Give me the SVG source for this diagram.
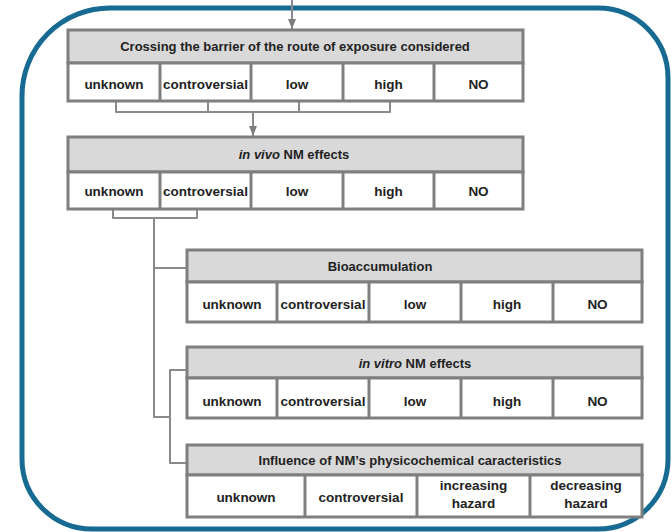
<svg xmlns="http://www.w3.org/2000/svg" width="672" height="532" viewBox="0 0 672 532">
<defs>
<style>
.frame{fill:none;stroke:#176a92;stroke-width:5}
.box{fill:#ffffff;stroke:#7f7f7f;stroke-width:3}
.hdr{fill:#d9d9d9;stroke:#7f7f7f;stroke-width:3}
.div{stroke:#7f7f7f;stroke-width:3}
.con{fill:none;stroke:#8a8a8a;stroke-width:2;stroke-linejoin:round}
text{font-family:"Liberation Sans",Arial,sans-serif;font-weight:bold;font-size:13px;fill:#222222;text-anchor:middle}
.c{font-size:13.5px}
.it{font-style:italic}
</style>
<marker id="ah" markerUnits="userSpaceOnUse" markerWidth="10" markerHeight="10" viewBox="0 0 10 10" refX="10" refY="5" orient="auto">
<path d="M0,1 L10,5 L0,9 Z" fill="#7f7f7f"/>
</marker>
</defs>
<rect width="672" height="532" fill="#ffffff"/>
<path class="frame" d="M22,96 A88,88 0 0 1 110,8 H598 A70,70 0 0 1 668,78 V459 A70,70 0 0 1 598,529 H92 A70,70 0 0 1 22,459 Z"/>

<g id="connectors">
<path class="con" d="M292,0 V29" marker-end="url(#ah)"/>
<path class="con" d="M116,102 V112 H390 V102 M208,102 V112 M299,102 V112"/>
<path class="con" d="M253,112 V136" marker-end="url(#ah)"/>
<path class="con" d="M113,209 V218 H197 V209"/>
<path class="con" d="M154,218 V417 H170"/>
<path class="con" d="M154,268 H187"/>
<path class="con" d="M187,370 H170 V463 H187"/>
</g>

<g id="box1">
<rect class="hdr" x="68" y="30" width="455" height="33"/>
<rect class="box" x="68" y="63" width="455" height="38"/>
<line class="div" x1="160" y1="63" x2="160" y2="101"/>
<line class="div" x1="251" y1="63" x2="251" y2="101"/>
<line class="div" x1="343" y1="63" x2="343" y2="101"/>
<line class="div" x1="434" y1="63" x2="434" y2="101"/>
<text x="295" y="51">Crossing the barrier of the route of exposure considered</text>
<text class="c" x="114" y="89">unknown</text>
<text class="c" x="205.5" y="89">controversial</text>
<text class="c" x="297" y="89">low</text>
<text class="c" x="388.5" y="89">high</text>
<text class="c" x="478.5" y="89">NO</text>
</g>

<g id="box2">
<rect class="hdr" x="68" y="137" width="455" height="35"/>
<rect class="box" x="68" y="172" width="455" height="37"/>
<line class="div" x1="160" y1="172" x2="160" y2="209"/>
<line class="div" x1="251" y1="172" x2="251" y2="209"/>
<line class="div" x1="343" y1="172" x2="343" y2="209"/>
<line class="div" x1="434" y1="172" x2="434" y2="209"/>
<text x="294" y="159"><tspan class="it">in vivo</tspan> NM effects</text>
<text class="c" x="114" y="196">unknown</text>
<text class="c" x="205.5" y="196">controversial</text>
<text class="c" x="297" y="196">low</text>
<text class="c" x="388.5" y="196">high</text>
<text class="c" x="478.5" y="196">NO</text>
</g>

<g id="box3">
<rect class="hdr" x="187" y="250" width="455" height="32"/>
<rect class="box" x="187" y="282" width="455" height="40"/>
<line class="div" x1="277" y1="282" x2="277" y2="322"/>
<line class="div" x1="369" y1="282" x2="369" y2="322"/>
<line class="div" x1="461" y1="282" x2="461" y2="322"/>
<line class="div" x1="553" y1="282" x2="553" y2="322"/>
<text x="380" y="271">Bioaccumulation</text>
<text class="c" x="232" y="309">unknown</text>
<text class="c" x="323" y="309">controversial</text>
<text class="c" x="415" y="309">low</text>
<text class="c" x="507" y="309">high</text>
<text class="c" x="597.5" y="309">NO</text>
</g>

<g id="box4">
<rect class="hdr" x="187" y="347" width="455" height="31"/>
<rect class="box" x="187" y="378" width="455" height="40"/>
<line class="div" x1="277" y1="378" x2="277" y2="418"/>
<line class="div" x1="369" y1="378" x2="369" y2="418"/>
<line class="div" x1="461" y1="378" x2="461" y2="418"/>
<line class="div" x1="553" y1="378" x2="553" y2="418"/>
<text x="415" y="368"><tspan class="it">in vitro</tspan> NM effects</text>
<text class="c" x="232" y="406">unknown</text>
<text class="c" x="323" y="406">controversial</text>
<text class="c" x="415" y="406">low</text>
<text class="c" x="507" y="406">high</text>
<text class="c" x="597.5" y="406">NO</text>
</g>

<g id="box5">
<rect class="hdr" x="187" y="445" width="455" height="30"/>
<rect class="box" x="187" y="475" width="455" height="42"/>
<line class="div" x1="305" y1="475" x2="305" y2="517"/>
<line class="div" x1="417" y1="475" x2="417" y2="517"/>
<line class="div" x1="530" y1="475" x2="530" y2="517"/>
<text x="410" y="465">Influence of NM’s physicochemical caracteristics</text>
<text class="c" x="246" y="502">unknown</text>
<text class="c" x="361" y="502">controversial</text>
<text class="c" x="473.5" y="490">increasing</text>
<text class="c" x="473.5" y="508">hazard</text>
<text class="c" x="586" y="490">decreasing</text>
<text class="c" x="586" y="508">hazard</text>
</g>
</svg>
